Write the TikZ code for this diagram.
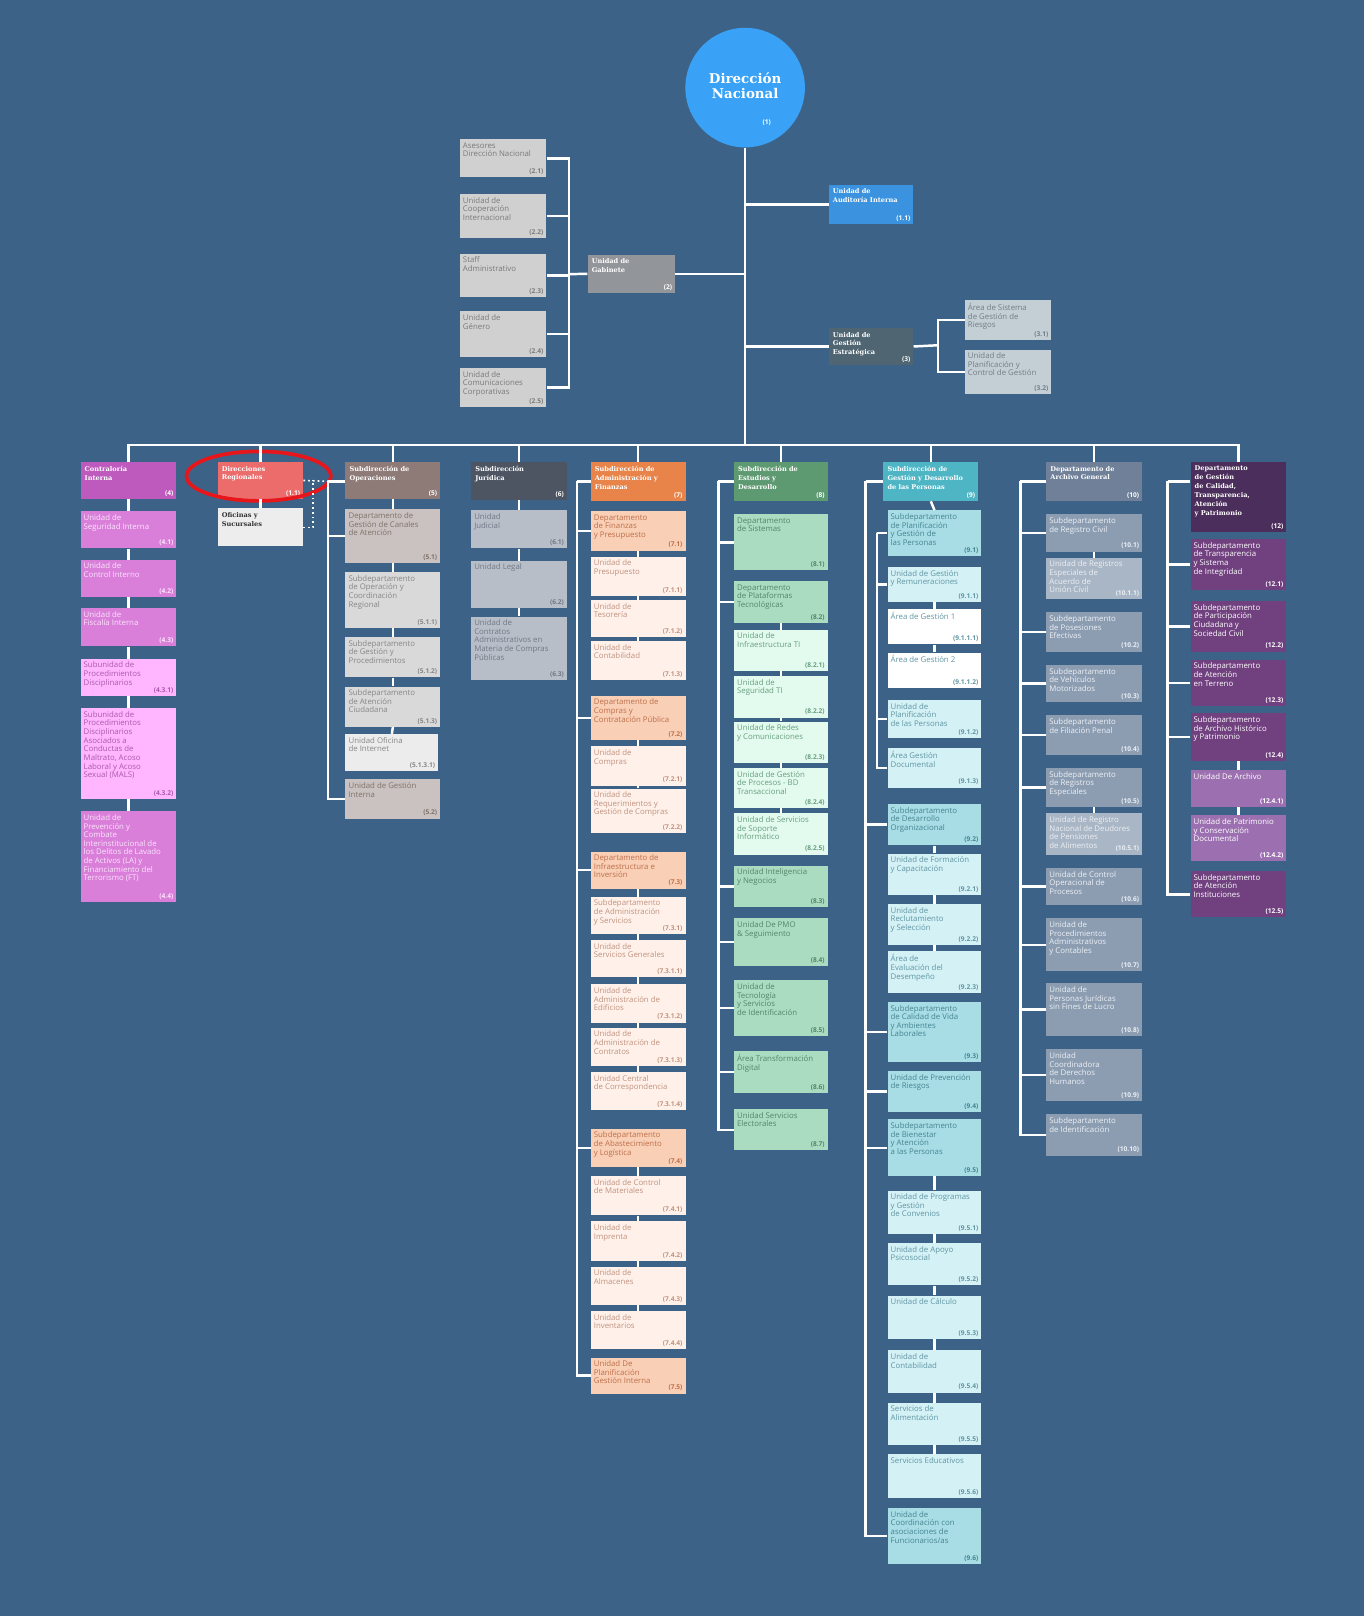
\documentclass[tikz,border=0pt]{standalone}
\usepackage{fontspec}
\setmainfont{Open Sans}
\newfontfamily\boxfont{Open Sans}
\newfontfamily\headfont{DejaVu Serif}
\usetikzlibrary{positioning}

\definecolor{bg}{RGB}{61,98,135}
\definecolor{dnblue}{RGB}{58,162,246}
\definecolor{audblue}{RGB}{59,146,222}
\definecolor{gabgray}{RGB}{146,149,153}
\definecolor{gesslate}{RGB}{79,101,113}
\definecolor{gabfill}{RGB}{208,208,208}
\definecolor{gesfill}{RGB}{196,206,213}
\definecolor{pinkhd}{RGB}{190,90,190}
\definecolor{pinkfill}{RGB}{217,127,217}
\definecolor{rosafill}{RGB}{255,182,255}
\definecolor{redhd}{RGB}{236,107,107}
\definecolor{ofifill}{RGB}{237,237,237}
\definecolor{brownhd}{RGB}{142,123,119}
\definecolor{brownfill}{RGB}{201,194,192}
\definecolor{ashfill}{RGB}{217,217,217}
\definecolor{paleash}{RGB}{236,236,236}
\definecolor{jurhd}{RGB}{77,85,99}
\definecolor{jurfill}{RGB}{183,190,200}
\definecolor{orangehd}{RGB}{232,132,74}
\definecolor{peachfill}{RGB}{249,207,182}
\definecolor{creamfill}{RGB}{255,241,234}
\definecolor{greenhd}{RGB}{94,154,113}
\definecolor{mintfill}{RGB}{170,220,193}
\definecolor{palemint}{RGB}{227,251,238}
\definecolor{tealhd}{RGB}{78,181,197}
\definecolor{tealfill}{RGB}{168,221,230}
\definecolor{paleteal}{RGB}{212,241,246}
\definecolor{archhd}{RGB}{111,128,152}
\definecolor{archfill}{RGB}{140,157,178}
\definecolor{palearch}{RGB}{169,182,197}
\definecolor{purplehd}{RGB}{75,46,91}
\definecolor{purplefill}{RGB}{112,64,127}
\definecolor{lilacfill}{RGB}{156,112,176}
\definecolor{ringred}{RGB}{230,22,27}

\tikzset{
  link/.style={draw=white, line width=2.4pt},
  dotlink/.style={draw=white, line width=1.6pt, dash pattern=on 1.6pt off 3pt},
  unitbox/.style={rectangle, inner sep=0pt, draw=none},
  txt/.style={font=\boxfont\fontsize{7.6}{8.4}\selectfont, align=left, inner xsep=3pt, inner ysep=3pt},
  hdr/.style={font=\headfont\bfseries\fontsize{6.4}{8.6}\selectfont, text=white, align=left, inner xsep=4pt, inner ysep=4pt},
  num/.style={font=\boxfont\bfseries\fontsize{6.4}{7}\selectfont, inner xsep=3pt, inner ysep=2.5pt},
  grayt/.style={txt, text=black!52},
  stonet/.style={txt, text={rgb,255:red,112;green,126;blue,136}},
  pinkt/.style={txt, text={rgb,255:red,252;green,228;blue,252}},
  rosat/.style={txt, text={rgb,255:red,170;green,88;blue,170}},
  brownt/.style={txt, text={rgb,255:red,128;green,114;blue,106}},
  asht/.style={txt, text=black!47},
  jurt/.style={txt, text={rgb,255:red,112;green,121;blue,134}},
  peacht/.style={txt, text={rgb,255:red,190;green,112;blue,74}},
  creamt/.style={txt, text={rgb,255:red,192;green,146;blue,126}},
  mintt/.style={txt, text={rgb,255:red,82;green,134;blue,106}},
  pmintt/.style={txt, text={rgb,255:red,104;green,158;blue,128}},
  tealt/.style={txt, text={rgb,255:red,70;green,132;blue,144}},
  ptealt/.style={txt, text={rgb,255:red,96;green,150;blue,162}},
  archt/.style={txt, text={rgb,255:red,236;green,240;blue,245}},
  purplet/.style={txt, text=white},
  ofit/.style={hdr, text=black!80},
}

% box with its text at the top left and its number at the bottom right
\newcommand{\orgunit}[9]{%
  \node[unitbox, fill=#2, anchor=north west, minimum width={#6-#4}, minimum height={#7-#5}] (#1) at (#4,#5) {};
  \node[#3, anchor=north west] (#1-t) at (#1.north west) {#8};
  \node[#3, num, anchor=south east] (#1-n) at (#1.south east) {#9};}

\begin{document}
\begin{tikzpicture}[x=1pt, y=-1pt]
\fill[bg] (0,0) rectangle (1323,1568);
\useasboundingbox (0,0) rectangle (1323,1568);

% top of the chart
\node[circle, fill=dnblue, minimum size=116pt, inner sep=0pt] (dn) at (723,85) {};
\node[font=\headfont\bfseries\fontsize{13}{14}\selectfont, text=white, align=center] (dn-t) at (723,83) {Dirección\\Nacional};
\node[num, text=white] (dn-n) at (744,119) {(1)};

\orgunit{aud}{audblue}{hdr}{804}{179}{886}{217}{Unidad de\\Auditoría Interna}{(1.1)}
\orgunit{gab}{gabgray}{hdr}{570}{247}{655}{284}{Unidad de\\Gabinete}{(2)}
\orgunit{g21}{gabfill}{grayt}{446}{135}{530}{172}{Asesores\\Dirección Nacional}{(2.1)}
\orgunit{g22}{gabfill}{grayt}{446}{188}{530}{231}{Unidad de\\Cooperación\\Internacional}{(2.2)}
\orgunit{g23}{gabfill}{grayt}{446}{246}{530}{288}{Staff\\Administrativo}{(2.3)}
\orgunit{g24}{gabfill}{grayt}{446}{302}{530}{346}{Unidad de\\Género}{(2.4)}
\orgunit{g25}{gabfill}{grayt}{446}{357}{530}{395}{Unidad de\\Comunicaciones\\Corporativas}{(2.5)}
\orgunit{ges}{gesslate}{hdr}{804}{318}{886}{354}{Unidad de\\Gestión\\Estratégica}{(3)}
\orgunit{g31}{gesfill}{stonet}{936}{291}{1020}{330}{Área de Sistema\\de Gestión de\\Riesgos}{(3.1)}
\orgunit{g32}{gesfill}{stonet}{936}{339}{1020}{382}{Unidad de\\Planificación y\\Control de Gestión}{(3.2)}

% column 4
\orgunit{c4}{pinkhd}{hdr}{78}{448}{171}{484}{Contraloría\\Interna}{(4)}
\orgunit{c41}{pinkfill}{pinkt}{78}{496}{171}{532}{Unidad de\\Seguridad Interna}{(4.1)}
\orgunit{c42}{pinkfill}{pinkt}{78}{543}{171}{579}{Unidad de\\Control Interno}{(4.2)}
\orgunit{c43}{pinkfill}{pinkt}{78}{590}{171}{627}{Unidad de\\Fiscalía Interna}{(4.3)}
\orgunit{c431}{rosafill}{rosat}{78}{639}{171}{675}{Subunidad de\\Procedimientos\\Disciplinarios}{(4.3.1)}
\orgunit{c432}{rosafill}{rosat}{78}{687}{171}{775}{Subunidad de\\Procedimientos\\Disciplinarios\\Asociados a\\Conductas de\\Maltrato, Acoso\\Laboral y Acoso\\Sexual (MALS)}{(4.3.2)}
\orgunit{c44}{pinkfill}{pinkt}{78}{787}{171}{875}{Unidad de\\Prevención y\\Combate\\Interinstitucional de\\los Delitos de Lavado\\de Activos (LA) y\\Financiamiento del\\Terrorismo (FT)}{(4.4)}

% regional offices
\orgunit{dr}{redhd}{hdr}{211}{448}{294}{484}{Direcciones\\Regionales}{(1.1)}
\orgunit{ofi}{ofifill}{ofit}{211}{493}{294}{530}{Oficinas y\\Sucursales}{}
\draw[ringred, line width=3.6pt] (251,462) ellipse [x radius=70, y radius=24];

% column 5
\orgunit{c5}{brownhd}{hdr}{335}{448}{427}{484}{Subdirección de\\Operaciones}{(5)}
\orgunit{c51}{brownfill}{brownt}{335}{494}{427}{546}{Departamento de\\Gestión de Canales\\de Atención}{(5.1)}
\orgunit{c511}{ashfill}{asht}{335}{555}{427}{609}{Subdepartamento\\de Operación y\\Coordinación\\Regional}{(5.1.1)}
\orgunit{c512}{ashfill}{asht}{335}{618}{427}{657}{Subdepartamento\\de Gestión y\\Procedimientos}{(5.1.2)}
\orgunit{c513}{ashfill}{asht}{335}{666}{427}{705}{Subdepartamento\\de Atención\\Ciudadana}{(5.1.3)}
\orgunit{c5131}{paleash}{asht}{335}{712}{425}{748}{Unidad Oficina\\de Internet}{(5.1.3.1)}
\orgunit{c52}{brownfill}{brownt}{335}{756}{427}{794}{Unidad de Gestión\\Interna}{(5.2)}

% column 6
\orgunit{c6}{jurhd}{hdr}{457}{448}{550}{485}{Subdirección\\Jurídica}{(6)}
\orgunit{c61}{jurfill}{jurt}{457}{495}{550}{532}{Unidad\\Judicial}{(6.1)}
\orgunit{c62}{jurfill}{jurt}{457}{544}{550}{590}{Unidad Legal}{(6.2)}
\orgunit{c63}{jurfill}{jurt}{457}{598}{550}{660}{Unidad de\\Contratos\\Administrativos en\\Materia de Compras\\Públicas}{(6.3)}

% column 7
\orgunit{c7}{orangehd}{hdr}{573}{448}{665}{486}{Subdirección de\\Administración y\\Finanzas}{(7)}
\orgunit{c71}{peachfill}{peacht}{573}{496}{665}{534}{Departamento\\de Finanzas\\y Presupuesto}{(7.1)}
\orgunit{c711}{creamfill}{creamt}{573}{540}{665}{578}{Unidad de\\Presupuesto}{(7.1.1)}
\orgunit{c712}{creamfill}{creamt}{573}{582}{665}{618}{Unidad de\\Tesorería}{(7.1.2)}
\orgunit{c713}{creamfill}{creamt}{573}{622}{665}{660}{Unidad de\\Contabilidad}{(7.1.3)}
\orgunit{c72}{peachfill}{peacht}{573}{675}{665}{718}{Departamento de\\Compras y\\Contratación Pública}{(7.2)}
\orgunit{c721}{creamfill}{creamt}{573}{724}{665}{762}{Unidad de\\Compras}{(7.2.1)}
\orgunit{c722}{creamfill}{creamt}{573}{765}{665}{808}{Unidad de\\Requerimientos y\\Gestión de Compras}{(7.2.2)}
\orgunit{c73}{peachfill}{peacht}{573}{826}{665}{862}{Departamento de\\Infraestructura e\\Inversión}{(7.3)}
\orgunit{c731}{creamfill}{creamt}{573}{870}{665}{906}{Subdepartamento\\de Administración\\y Servicios}{(7.3.1)}
\orgunit{c7311}{creamfill}{creamt}{573}{912}{665}{948}{Unidad de\\Servicios Generales}{(7.3.1.1)}
\orgunit{c7312}{creamfill}{creamt}{573}{955}{665}{992}{Unidad de\\Administración de\\Edificios}{(7.3.1.2)}
\orgunit{c7313}{creamfill}{creamt}{573}{997}{665}{1034}{Unidad de\\Administración de\\Contratos}{(7.3.1.3)}
\orgunit{c7314}{creamfill}{creamt}{573}{1040}{665}{1077}{Unidad Central\\de Correspondencia}{(7.3.1.4)}
\orgunit{c74}{peachfill}{peacht}{573}{1095}{665}{1132}{Subdepartamento\\de Abastecimiento\\y Logística}{(7.4)}
\orgunit{c741}{creamfill}{creamt}{573}{1141}{665}{1179}{Unidad de Control\\de Materiales}{(7.4.1)}
\orgunit{c742}{creamfill}{creamt}{573}{1185}{665}{1223}{Unidad de\\Imprenta}{(7.4.2)}
\orgunit{c743}{creamfill}{creamt}{573}{1229}{665}{1266}{Unidad de\\Almacenes}{(7.4.3)}
\orgunit{c744}{creamfill}{creamt}{573}{1272}{665}{1309}{Unidad de\\Inventarios}{(7.4.4)}
\orgunit{c75}{peachfill}{peacht}{573}{1317}{665}{1352}{Unidad De\\Planificación\\Gestión Interna}{(7.5)}

% column 8
\orgunit{c8}{greenhd}{hdr}{712}{448}{803}{486}{Subdirección de\\Estudios y\\Desarrollo}{(8)}
\orgunit{c81}{mintfill}{mintt}{712}{499}{803}{553}{Departamento\\de Sistemas}{(8.1)}
\orgunit{c82}{mintfill}{mintt}{712}{564}{803}{604}{Departamento\\de Plataformas\\Tecnológicas}{(8.2)}
\orgunit{c821}{palemint}{pmintt}{712}{611}{803}{651}{Unidad de\\Infraestructura TI}{(8.2.1)}
\orgunit{c822}{palemint}{pmintt}{712}{656}{803}{696}{Unidad de\\Seguridad TI}{(8.2.2)}
\orgunit{c823}{palemint}{pmintt}{712}{700}{803}{740}{Unidad de Redes\\y Comunicaciones}{(8.2.3)}
\orgunit{c824}{palemint}{pmintt}{712}{745}{803}{784}{Unidad de Gestión\\de Procesos - BD\\Transaccional}{(8.2.4)}
\orgunit{c825}{palemint}{pmintt}{712}{789}{803}{829}{Unidad de Servicios\\de Soporte\\Informático}{(8.2.5)}
\orgunit{c83}{mintfill}{mintt}{712}{840}{803}{880}{Unidad Inteligencia\\y Negocios}{(8.3)}
\orgunit{c84}{mintfill}{mintt}{712}{891}{803}{937}{Unidad De PMO\\\& Seguimiento}{(8.4)}
\orgunit{c85}{mintfill}{mintt}{712}{951}{803}{1005}{Unidad de\\Tecnología\\y Servicios\\de Identificación}{(8.5)}
\orgunit{c86}{mintfill}{mintt}{712}{1020}{803}{1060}{Área Transformación\\Digital}{(8.6)}
\orgunit{c87}{mintfill}{mintt}{712}{1076}{803}{1116}{Unidad Servicios\\Electorales}{(8.7)}

% column 9
\orgunit{c9}{tealhd}{hdr}{857}{448}{949}{486}{Subdirección de\\Gestión y Desarrollo\\de las Personas}{(9)}
\orgunit{c91}{tealfill}{tealt}{861}{495}{952}{539}{Subdepartamento\\de Planificación\\y Gestión de\\las Personas}{(9.1)}
\orgunit{c911}{paleteal}{ptealt}{861}{550}{952}{584}{Unidad de Gestión\\y Remuneraciones}{(9.1.1)}
\orgunit{c9111}{white}{ptealt}{861}{591}{952}{625}{Área de Gestión 1}{(9.1.1.1)}
\orgunit{c9112}{white}{ptealt}{861}{633}{952}{667}{Área de Gestión 2}{(9.1.1.2)}
\orgunit{c912}{paleteal}{ptealt}{861}{679}{952}{716}{Unidad de\\Planificación\\de las Personas}{(9.1.2)}
\orgunit{c913}{paleteal}{ptealt}{861}{726}{952}{764}{Área Gestión\\Documental}{(9.1.3)}
\orgunit{c92}{tealfill}{tealt}{861}{780}{952}{820}{Subdepartamento\\de Desarrollo\\Organizacional}{(9.2)}
\orgunit{c921}{paleteal}{ptealt}{861}{828}{952}{868}{Unidad de Formación\\y Capacitación}{(9.2.1)}
\orgunit{c922}{paleteal}{ptealt}{861}{877}{952}{917}{Unidad de\\Reclutamiento\\y Selección}{(9.2.2)}
\orgunit{c923}{paleteal}{ptealt}{861}{923}{952}{963}{Área de\\Evaluación del\\Desempeño}{(9.2.3)}
\orgunit{c93}{tealfill}{tealt}{861}{972}{952}{1030}{Subdepartamento\\de Calidad de Vida\\y Ambientes\\Laborales}{(9.3)}
\orgunit{c94}{tealfill}{tealt}{861}{1039}{952}{1079}{Unidad de Prevención\\de Riesgos}{(9.4)}
\orgunit{c95}{tealfill}{tealt}{861}{1086}{952}{1141}{Subdepartamento\\de Bienestar\\y Atención\\a las Personas}{(9.5)}
\orgunit{c951}{paleteal}{ptealt}{861}{1155}{952}{1197}{Unidad de Programas\\y Gestión\\de Convenios}{(9.5.1)}
\orgunit{c952}{paleteal}{ptealt}{861}{1206}{952}{1247}{Unidad de Apoyo\\Psicosocial}{(9.5.2)}
\orgunit{c953}{paleteal}{ptealt}{861}{1257}{952}{1299}{Unidad de Cálculo}{(9.5.3)}
\orgunit{c954}{paleteal}{ptealt}{861}{1310}{952}{1351}{Unidad de\\Contabilidad}{(9.5.4)}
\orgunit{c955}{paleteal}{ptealt}{861}{1361}{952}{1402}{Servicios de\\Alimentación}{(9.5.5)}
\orgunit{c956}{paleteal}{ptealt}{861}{1411}{952}{1453}{Servicios Educativos}{(9.5.6)}
\orgunit{c96}{tealfill}{tealt}{861}{1463}{952}{1517}{Unidad de\\Coordinación con\\asociaciones de\\Funcionarios/as}{(9.6)}

% column 10
\orgunit{c10}{archhd}{hdr}{1015}{448}{1108}{486}{Departamento de\\Archivo General}{(10)}
\orgunit{c101}{archfill}{archt}{1015}{499}{1108}{535}{Subdepartamento\\de Registro Civil}{(10.1)}
\orgunit{c1011}{palearch}{archt}{1015}{541}{1108}{581}{Unidad de Registros\\Especiales de\\Acuerdo de\\Unión Civil}{(10.1.1)}
\orgunit{c102}{archfill}{archt}{1015}{594}{1108}{632}{Subdepartamento\\de Posesiones\\Efectivas}{(10.2)}
\orgunit{c103}{archfill}{archt}{1015}{645}{1108}{681}{Subdepartamento\\de Vehículos\\Motorizados}{(10.3)}
\orgunit{c104}{archfill}{archt}{1015}{694}{1108}{732}{Subdepartamento\\de Filiación Penal}{(10.4)}
\orgunit{c105}{archfill}{archt}{1015}{745}{1108}{783}{Subdepartamento\\de Registros\\Especiales}{(10.5)}
\orgunit{c1051}{palearch}{archt}{1015}{789}{1108}{829}{Unidad de Registro\\Nacional de Deudores\\de Pensiones\\de Alimentos}{(10.5.1)}
\orgunit{c106}{archfill}{archt}{1015}{842}{1108}{878}{Unidad de Control\\Operacional de\\Procesos}{(10.6)}
\orgunit{c107}{archfill}{archt}{1015}{891}{1108}{942}{Unidad de\\Procedimientos\\Administrativos\\y Contables}{(10.7)}
\orgunit{c108}{archfill}{archt}{1015}{954}{1108}{1005}{Unidad de\\Personas Jurídicas\\sin Fines de Lucro}{(10.8)}
\orgunit{c109}{archfill}{archt}{1015}{1018}{1108}{1068}{Unidad\\Coordinadora\\de Derechos\\Humanos}{(10.9)}
\orgunit{c1010}{archfill}{archt}{1015}{1081}{1108}{1121}{Subdepartamento\\de Identificación}{(10.10)}

% column 12
\orgunit{c12}{purplehd}{hdr}{1155}{448}{1248}{516}{Departamento\\de Gestión\\de Calidad,\\Transparencia,\\Atención\\y Patrimonio}{(12)}
\orgunit{c121}{purplefill}{purplet}{1155}{523}{1248}{572}{Subdepartamento\\de Transparencia\\y Sistema\\de Integridad}{(12.1)}
\orgunit{c122}{purplefill}{purplet}{1155}{583}{1248}{632}{Subdepartamento\\de Participación\\Ciudadana y\\Sociedad Civil}{(12.2)}
\orgunit{c123}{purplefill}{purplet}{1155}{640}{1248}{685}{Subdepartamento\\de Atención\\en Terreno}{(12.3)}
\orgunit{c124}{purplefill}{purplet}{1155}{692}{1248}{738}{Subdepartamento\\de Archivo Histórico\\y Patrimonio}{(12.4)}
\orgunit{c1241}{lilacfill}{purplet}{1155}{747}{1248}{783}{Unidad De Archivo}{(12.4.1)}
\orgunit{c1242}{lilacfill}{purplet}{1155}{791}{1248}{835}{Unidad de Patrimonio\\y Conservación\\Documental}{(12.4.2)}
\orgunit{c125}{purplefill}{purplet}{1155}{845}{1248}{890}{Subdepartamento\\de Atención\\Instituciones}{(12.5)}

% trunk and main bus
\coordinate (bus) at (723,432);
\draw[link] (dn.south) -- (bus);
\draw[link] (aud.west) -- (aud.west -| dn.south);
\draw[link] (gab.east) -- (gab.east -| dn.south);
\draw[link] (ges.west) -- (ges.west -| dn.south);
\draw[link] (c4.north) |- (bus) -| (c12.north);
\foreach \n in {dr,c5,c6,c7,c8,c9,c10}
  \draw[link] (\n.north) -- (\n.north |- bus);

% gabinete and gestion
\coordinate (gbus) at (552,266);
\draw[link] (gab.west) -- (gbus);
\foreach \n in {g21,g22,g23,g24,g25}
  \draw[link] (\n.east) -| (gbus);
\coordinate (sbus) at (910,335);
\draw[link] (ges.east) -- (sbus);
\foreach \n in {g31,g32}
  \draw[link] (\n.west) -| (sbus);

% side buses of the columns
\coordinate (b5) at (318,467);
\coordinate (b7) at (560,467);
\coordinate (b8) at (697,467);
\coordinate (b9) at (840,467);
\coordinate (b9s) at (851,517);
\coordinate (b10) at (990,467);
\coordinate (b12) at (1133,467);
\foreach \b/\h in {b5/c5,b7/c7,b8/c8,b9/c9,b10/c10,b12/c12}
  \draw[link] (\b) -- (\b -| \h.west);
\foreach \n in {c51,c52}
  \draw[link] (\n.west) -| (b5);
\foreach \n in {c71,c72,c73,c74,c75}
  \draw[link] (\n.west) -| (b7);
\foreach \n in {c81,c82,c83,c84,c85,c86,c87}
  \draw[link] (\n.west) -| (b8);
\foreach \n in {c92,c93,c94,c95,c96}
  \draw[link] (\n.west) -| (b9);
\foreach \n in {c91,c911,c912,c913}
  \draw[link] (\n.west) -| (b9s);
\foreach \n in {c101,c102,c103,c104,c105,c106,c107,c108,c109,c1010}
  \draw[link] (\n.west) -| (b10);
\foreach \n in {c121,c122,c123,c124,c125}
  \draw[link] (\n.west) -| (b12);

% chains inside the columns
\foreach \a/\b in {c4/c41,c41/c42,c42/c43,c43/c431,c431/c432,c432/c44,dr/ofi,
    c5/c51,c51/c511,c511/c512,c512/c513,c513/c5131,c6/c61,c61/c62,c62/c63,
    c71/c711,c711/c712,c712/c713,c72/c721,c721/c722,c73/c731,c731/c7311,
    c7311/c7312,c7312/c7313,c7313/c7314,c74/c741,c741/c742,c742/c743,c743/c744,
    c82/c821,c821/c822,c822/c823,c823/c824,c824/c825,
    c9/c91,c911/c9111,c9111/c9112,c92/c921,c921/c922,c922/c923,
    c95/c951,c951/c952,c952/c953,c953/c954,c954/c955,c955/c956,
    c101/c1011,c105/c1051,c124/c1241,c1241/c1242}
  \draw[link] (\a.south) -- (\b.north);

% dotted ties of the regional offices
\coordinate (dj) at (304,466);
\draw[dotlink] (dr.east) -- (b5);
\draw[dotlink] (ofi.east) -| (dj);
\end{tikzpicture}
\end{document}
